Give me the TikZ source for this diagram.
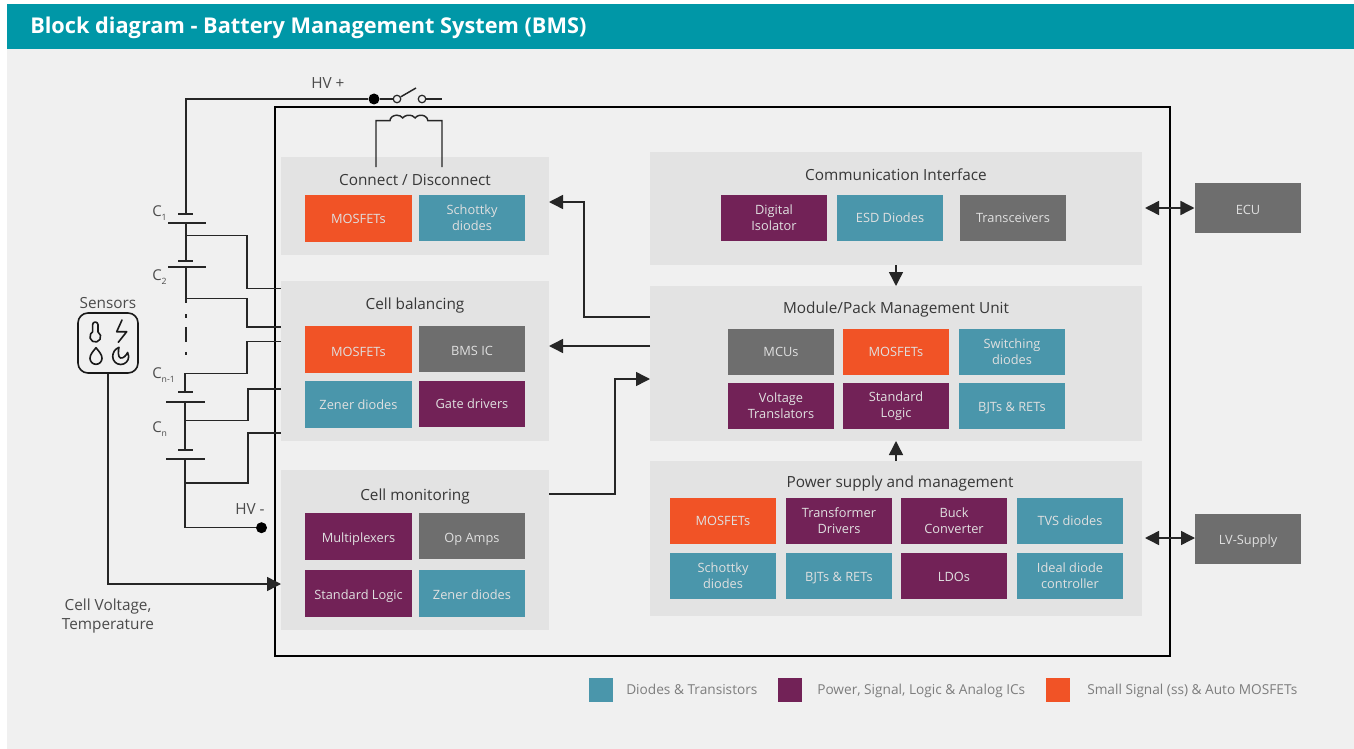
\documentclass[tikz,border=0pt]{standalone}
\usepackage{fontspec}
\setmainfont{Open Sans}
\usetikzlibrary{arrows.meta}
\definecolor{panel}{RGB}{240,240,240}
\definecolor{head}{RGB}{0,151,167}
\definecolor{grp}{RGB}{227,227,227}
\definecolor{cOr}{RGB}{241,83,38}
\definecolor{cTe}{RGB}{74,150,171}
\definecolor{cPu}{RGB}{114,34,87}
\definecolor{cGr}{RGB}{110,110,110}
\definecolor{txt}{RGB}{55,55,55}
\definecolor{legtxt}{RGB}{125,125,125}
\tikzset{
  wire/.style={line width=1.1pt,draw=black!85},
  arr/.style={wire,-{Triangle[length=10.5pt,width=10.5pt]}},
  biarr/.style={wire,{Triangle[length=10.5pt,width=10.5pt]}-{Triangle[length=10.5pt,width=10.5pt]}},
  group/.style={fill=grp,inner sep=0pt,minimum width=268*0.75pt},
  grpR/.style={fill=grp,inner sep=0pt,minimum width=492*0.75pt},
  chip/.style={inner sep=0pt,minimum width=106.5*0.75pt,minimum height=46.5*0.75pt,align=center,text=white!88!black,font=\fontsize{9.6}{12}\selectfont},
  oneA/.style={text height=.88em,text depth=.2em},
  oneB/.style={text height=1.03em,text depth=.2em},
  oneC/.style={text height=1.19em,text depth=.2em},
  ttl/.style={text=txt,font=\fontsize{11.5}{13}\selectfont,inner sep=0pt,text height=.98em,text depth=.2em},
  lbl/.style={text=txt!90,font=\fontsize{11.5}{14.3}\selectfont,inner sep=0pt,align=center},
  cidx/.style={text=txt!90,font=\fontsize{11.2}{13}\selectfont,inner sep=0pt,anchor=west},
  leg/.style={inner sep=0pt,minimum size=24*0.75pt},
  legt/.style={text=legtxt,font=\fontsize{10.25}{12}\selectfont,inner sep=0pt,anchor=west,text height=.9em,text depth=.2em},
  dot/.style={circle,fill=black,inner sep=0pt,minimum size=#1*0.75pt},
  contact/.style={circle,draw=black!85,line width=0.9pt,inner sep=0pt,minimum size=7.5*0.75pt},
  icon/.style={line width=1.2pt,draw=black!90,line join=round,line cap=round},
}
\begin{document}
\begin{tikzpicture}[x=0.75pt,y=-0.75pt]
\useasboundingbox (0,0) rectangle (1354,749);
\fill[white] (0,0) rectangle (1354,749);
\fill[panel] (7,4) rectangle (1354,749);
\fill[head] (7,4) rectangle (1354,49);
\node[anchor=west,inner sep=0pt,text=white,font=\fontsize{16.3}{18}\selectfont\bfseries] (title) at (30,27.5) {Block diagram - Battery Management System (BMS)};

% main frame
\node[draw=black,line width=1.1pt,inner sep=0pt,minimum width=895*0.75pt,minimum height=549*0.75pt] (frame) at (722.5,381.5) {};

% groups
\node[group,minimum height=98*0.75pt] (conn) at (415,206) {};
\node[group,minimum height=160*0.75pt] (bal) at (415,361) {};
\node[group,minimum height=160*0.75pt] (mon) at (415,550) {};
\node[grpR,minimum height=113*0.75pt] (com) at (896,208.5) {};
\node[grpR,minimum height=155*0.75pt] (mod) at (896,363.5) {};
\node[grpR,minimum height=155*0.75pt] (pwr) at (896,538.5) {};

% group titles
\node[ttl] (tconn) at (415,180.5) {Connect / Disconnect};
\node[ttl] (tbal) at (415,304.5) {Cell balancing};
\node[ttl] (tmon) at (415,495.5) {Cell monitoring};
\node[ttl] (tcom) at (896,175.5) {Communication Interface};
\node[ttl] (tmod) at (896,308.5) {Module/Pack Management Unit};
\node[ttl] (tpwr) at (900,482.5) {Power supply and management};

% chips
\node[chip,oneA,fill=cOr] (c1) at (358.5,218.5) {MOSFETs};
\node[chip,fill=cTe] (c2) at (472,218) {Schottky\\diodes};
\node[chip,oneC,fill=cOr] (b1) at (358.5,349.5) {MOSFETs};
\node[chip,oneC,fill=cGr] (b2) at (472,349) {BMS IC};
\node[chip,oneA,fill=cTe] (b3) at (358.5,404.5) {Zener diodes};
\node[chip,oneA,fill=cPu] (b4) at (472,404) {Gate drivers};
\node[chip,oneB,fill=cPu] (m1) at (358.5,536.5) {Multiplexers};
\node[chip,oneC,fill=cGr] (m2) at (472,536) {Op Amps};
\node[chip,oneB,fill=cPu] (m3) at (358.5,593.5) {Standard Logic};
\node[chip,oneB,fill=cTe] (m4) at (472,593.5) {Zener diodes};
\node[chip,fill=cPu] (i1) at (774,218) {Digital\\Isolator};
\node[chip,oneA,fill=cTe] (i2) at (890,218) {ESD Diodes};
\node[chip,oneA,fill=cGr] (i3) at (1013,218) {Transceivers};
\node[chip,oneA,fill=cGr] (u1) at (781,352) {MCUs};
\node[chip,oneA,fill=cOr] (u2) at (896,352) {MOSFETs};
\node[chip,fill=cTe] (u3) at (1012,352) {Switching\\diodes};
\node[chip,fill=cPu] (u4) at (781,406) {Voltage\\Translators};
\node[chip,fill=cPu] (u5) at (896,406) {Standard\\Logic};
\node[chip,oneB,fill=cTe] (u6) at (1012,406) {BJTs \& RETs};
\node[chip,oneA,fill=cOr] (p1) at (723,521) {MOSFETs};
\node[chip,fill=cPu] (p2) at (839,521) {Transformer\\Drivers};
\node[chip,fill=cPu] (p3) at (954,521) {Buck\\Converter};
\node[chip,oneA,fill=cTe] (p4) at (1070,521) {TVS diodes};
\node[chip,fill=cTe] (p5) at (723,576) {Schottky\\diodes};
\node[chip,oneB,fill=cTe] (p6) at (839,576) {BJTs \& RETs};
\node[chip,oneB,fill=cPu] (p7) at (954,576) {LDOs};
\node[chip,fill=cTe] (p8) at (1070,576) {Ideal diode\\controller};
\node[chip,oneC,fill=cGr,minimum height=50*0.75pt] (ecu) at (1248,208) {ECU};
\node[chip,oneB,fill=cGr,minimum height=50*0.75pt] (lv) at (1248,539) {LV-Supply};

% internal arrows
\coordinate (mA) at (650,317);
\coordinate (mB) at (650,346);
\coordinate (mC) at (650,379);
\coordinate (cA) at (549,202);
\coordinate (bA) at (549,346);
\coordinate (tA) at (549,494);
\coordinate (comS) at (896,265);
\coordinate (modN) at (896,286);
\coordinate (modS) at (896,441);
\coordinate (pwrN) at (896,461);
\coordinate (comE) at (1145,208);
\coordinate (pwrE) at (1145,538);
\coordinate (lvW) at (1195,538);
\draw[arr] (mA) -- (584,317) -- (584,202) -- (cA);
\draw[arr] (mB) -- (bA);
\draw[arr] (tA) -- (615,494) -- (615,379) -- (mC);
\draw[arr] (comS) -- (modN);
\draw[arr] (pwrN) -- (modS);
\draw[biarr] (comE) -- (ecu.west);
\draw[biarr] (pwrE) -- (lvW);

% HV+ and switch
\node[dot=11] (hvp) at (374,99) {};
\node[contact] (sw1) at (397,99) {};
\node[contact] (sw2) at (422,99) {};
\coordinate (swEnd) at (442,99);
\coordinate (swArm) at (416,88);
\node[lbl,anchor=west] (thvp) at (311,83) {HV +};
\draw[wire] (hvp) -- (sw1);
\draw[wire] (sw1) -- (swArm);
\draw[wire] (sw2) -- (swEnd);

% coil
\coordinate (coilL) at (376,167);
\coordinate (coilR) at (442,167);
\draw[wire] (coilL) -- (376,120.7) -- (390,120.7)
  arc[start angle=180,end angle=330,x radius=6.8,y radius=5.5]
  arc[start angle=210,end angle=330,x radius=7.2,y radius=5.5]
  arc[start angle=210,end angle=360,x radius=6.8,y radius=5.5]
  -- (442,120.7) -- (coilR);

% cell stack
\coordinate (c1t) at (186,214);
\coordinate (c1b) at (186,223);
\coordinate (c2t) at (186,261);
\coordinate (c2b) at (186,267);
\coordinate (c3t) at (185,392);
\coordinate (c3b) at (185,402);
\coordinate (c4t) at (185,450);
\coordinate (c4b) at (185,459);
\draw[wire] (hvp) -- (186,99) -- (c1t);
\draw[wire] (178,214) -- (193,214);
\draw[wire] (168,223) -- (206,223);
\draw[wire] (c1b) -- (c2t);
\draw[wire] (178,261) -- (193,261);
\draw[wire] (168,267) -- (206,267);
\draw[wire] (c2b) -- (186,303);
\draw[wire,line cap=butt] (186,314) -- (186,318);
\draw[wire,line cap=butt] (186,327) -- (186,342);
\draw[wire,line cap=butt] (186,352) -- (186,355);
\draw[wire] (186,235.7) -- (247,235.7) -- (247,288.7) -- (281,288.7);
\draw[wire] (186,298.7) -- (247,298.7) -- (247,327) -- (281,327);
\draw[wire] (281,341.7) -- (247,341.7) -- (247,373.7) -- (185,373.7) -- (c3t);
\draw[wire] (178,392) -- (193,392);
\draw[wire] (166,402) -- (205,402);
\draw[wire] (c3b) -- (c4t);
\draw[wire] (178,450) -- (193,450);
\draw[wire] (166,459) -- (205,459);
\node[dot=11] (hvm) at (261.5,527.7) {};
\draw[wire] (c4b) -- (185,527.7) -- (hvm);
\draw[wire] (185,420.7) -- (248,420.7) -- (248,389) -- (281,389);
\draw[wire] (185,483) -- (248,483) -- (248,433) -- (281,433);
\node[lbl,anchor=west] (thvm) at (235,509) {HV -};
\node[cidx] (l1) at (152,213) {C\raisebox{-3pt}{\fontsize{6.5}{7}\selectfont 1}};
\node[cidx] (l2) at (152,277) {C\raisebox{-3pt}{\fontsize{6.5}{7}\selectfont 2}};
\node[cidx] (l3) at (152,375.5) {C\raisebox{-3pt}{\fontsize{6.5}{7}\selectfont n-1}};
\node[cidx] (l4) at (152,429) {C\raisebox{-3pt}{\fontsize{6.5}{7}\selectfont n}};

% sensors
\node[lbl] (tsens) at (108,303) {Sensors};
\node[draw=black!90,line width=1.2pt,rounded corners=7.5pt,inner sep=0pt,minimum size=60*0.75pt] (sens) at (108,343) {};
\draw[icon] (92.6,332) -- (92.6,324.7) arc[start angle=180,end angle=360,radius=2.7] -- (98,332)
  arc[start angle=-60,end angle=240,radius=5.4] -- cycle;
\draw[icon] (122,320) -- (116.7,331.7) -- (126.7,331.7) -- (118.3,342.3);
\draw[icon] (96,347.7) .. controls (93,351.5) and (90,354.5) .. (90,358.3)
  arc[start angle=180,end angle=0,radius=6] .. controls (102,354.5) and (99,351.5) .. (96,347.7) -- cycle;
\draw[icon] (119,347.3) .. controls (115,349) and (112.7,352.5) .. (112.7,356.5)
  arc[start angle=180,end angle=-30,radius=8]
  .. controls (126,356) and (123,358.5) .. (120.5,358)
  .. controls (118,357.5) and (118,351) .. (119,347.3) -- cycle;
\coordinate (tempArr) at (281,584);
\draw[arr] (sens.south) -- (108,584) -- (tempArr);
\node[lbl] (tcv) at (108,616) {Cell Voltage,\\Temperature};

% legend
\node[leg,fill=cTe] (k1) at (601,690) {};
\node[leg,fill=cPu] (k2) at (790,690) {};
\node[leg,fill=cOr] (k3) at (1058,690) {};
\node[legt] (kt1) at (626,690) {Diodes \& Transistors};
\node[legt] (kt2) at (817,690) {Power, Signal, Logic \& Analog ICs};
\node[legt] (kt3) at (1087,690) {Small Signal (ss) \& Auto MOSFETs};
\end{tikzpicture}
\end{document}
